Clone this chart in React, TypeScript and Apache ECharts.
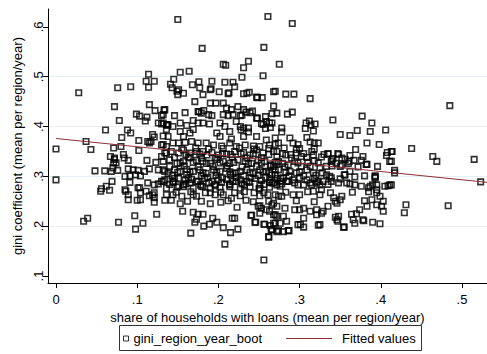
import React, { useEffect, useRef } from "react";
import * as echarts from "echarts";

const FONT = "'Liberation Sans', Arial, Helvetica, sans-serif";

const xTicks = [0, 0.1, 0.2, 0.3, 0.4, 0.5];
const yTicks = [0.1, 0.2, 0.3, 0.4, 0.5, 0.6];
const scatterName = "gini_region_year_boot";
const fitName = "Fitted values";
const xTitle = "share of households with loans (mean per region/year)";
const yTitle = "gini coefficient (mean per region/year)";

// fitted regression line end points (x, y)
const fittedX = [0, 0.531];
const fittedY = [0.376, 0.288];

// scatter points [share with loans, gini]
const upperPoints = [
  [0.150, 0.615], [0.180, 0.557], [0.206, 0.525], [0.209, 0.523], [0.237, 0.531], [0.231, 0.518], [0.229, 0.499],
  [0.114, 0.505], [0.153, 0.509], [0.164, 0.511], [0.145, 0.495], [0.111, 0.491], [0.121, 0.491], [0.114, 0.479],
  [0.076, 0.478], [0.092, 0.480], [0.028, 0.468], [0.141, 0.485], [0.143, 0.478], [0.151, 0.474], [0.150, 0.464],
  [0.168, 0.484], [0.176, 0.490], [0.177, 0.478], [0.181, 0.464], [0.192, 0.491], [0.191, 0.476], [0.208, 0.489],
  [0.218, 0.489], [0.220, 0.480], [0.201, 0.470], [0.213, 0.468], [0.231, 0.466], [0.238, 0.469],
  [0.261, 0.621], [0.291, 0.607], [0.256, 0.559], [0.275, 0.525], [0.255, 0.502], [0.268, 0.470], [0.248, 0.458],
  [0.254, 0.458], [0.283, 0.465], [0.293, 0.465], [0.313, 0.456], [0.485, 0.442],
  [0.072, 0.440], [0.115, 0.444], [0.122, 0.432], [0.171, 0.450], [0.176, 0.430], [0.182, 0.432], [0.190, 0.447],
  [0.197, 0.447], [0.206, 0.447], [0.210, 0.437], [0.216, 0.434], [0.224, 0.440], [0.231, 0.434], [0.268, 0.441],
  [0.149, 0.471], [0.157, 0.467], [0.190, 0.474], [0.212, 0.466], [0.235, 0.467], [0.247, 0.459], [0.270, 0.471],
  [0.242, 0.431], [0.234, 0.429], [0.229, 0.423], [0.248, 0.417], [0.258, 0.420], [0.266, 0.426], [0.239, 0.428],
];

const upperBandPoints = [
  [0.099, 0.425], [0.103, 0.421], [0.112, 0.419], [0.110, 0.411], [0.078, 0.412], [0.126, 0.407], [0.130, 0.405],
  [0.136, 0.404], [0.133, 0.433], [0.132, 0.424], [0.061, 0.393], [0.088, 0.393], [0.092, 0.387], [0.081, 0.378],
  [0.119, 0.384], [0.121, 0.379], [0.117, 0.370], [0.113, 0.370], [0.137, 0.402], [0.132, 0.381], [0.132, 0.364],
  [0.102, 0.372], [0.115, 0.367],
  [0.134, 0.434], [0.146, 0.422], [0.159, 0.428], [0.175, 0.430], [0.179, 0.427], [0.188, 0.424], [0.192, 0.422],
  [0.206, 0.424], [0.212, 0.422], [0.218, 0.424], [0.227, 0.422], [0.247, 0.417], [0.259, 0.410], [0.272, 0.427],
  [0.130, 0.422], [0.132, 0.407], [0.138, 0.404], [0.144, 0.400], [0.153, 0.407], [0.161, 0.402], [0.169, 0.412],
  [0.175, 0.407], [0.181, 0.407], [0.189, 0.405], [0.202, 0.407], [0.208, 0.400], [0.222, 0.410], [0.227, 0.400],
  [0.231, 0.397], [0.237, 0.397], [0.253, 0.406], [0.263, 0.407],
  [0.136, 0.394], [0.138, 0.380], [0.153, 0.390], [0.157, 0.380], [0.165, 0.387], [0.169, 0.394], [0.198, 0.387],
  [0.202, 0.380], [0.214, 0.390], [0.216, 0.375], [0.231, 0.380], [0.247, 0.380], [0.259, 0.373], [0.270, 0.377],
  [0.285, 0.425], [0.291, 0.429], [0.266, 0.407], [0.278, 0.397], [0.278, 0.389], [0.308, 0.407], [0.312, 0.411],
  [0.314, 0.403], [0.319, 0.405], [0.317, 0.391], [0.341, 0.413], [0.377, 0.421], [0.389, 0.407], [0.350, 0.384],
  [0.362, 0.382], [0.371, 0.392], [0.387, 0.390], [0.406, 0.393], [0.383, 0.367], [0.398, 0.364], [0.288, 0.377],
  [0.309, 0.378], [0.255, 0.404], [0.258, 0.396], [0.264, 0.398], [0.237, 0.389], [0.228, 0.393], [0.307, 0.396],
  [0.067, 0.340], [0.072, 0.337], [0.071, 0.327], [0.080, 0.360],
];

const middlePoints = [
  [0.037, 0.370], [0.043, 0.354], [0.000, 0.355], [0.071, 0.357], [0.102, 0.352], [0.083, 0.344], [0.084, 0.337],
  [0.072, 0.334], [0.074, 0.327], [0.089, 0.332], [0.112, 0.332], [0.123, 0.328], [0.130, 0.340], [0.136, 0.347],
  [0.130, 0.363], [0.136, 0.360], [0.144, 0.367], [0.151, 0.367], [0.159, 0.368], [0.167, 0.370], [0.175, 0.367],
  [0.185, 0.367], [0.194, 0.363], [0.204, 0.361], [0.214, 0.367], [0.222, 0.360], [0.233, 0.363], [0.243, 0.361],
  [0.251, 0.360], [0.263, 0.363], [0.274, 0.367],
  [0.134, 0.347], [0.142, 0.350], [0.151, 0.347], [0.157, 0.353], [0.165, 0.347], [0.173, 0.350], [0.181, 0.350],
  [0.192, 0.348], [0.200, 0.343], [0.210, 0.345], [0.220, 0.350], [0.231, 0.348], [0.239, 0.343], [0.247, 0.353],
  [0.255, 0.347], [0.268, 0.350],
  [0.132, 0.330], [0.140, 0.333], [0.149, 0.326], [0.157, 0.330], [0.165, 0.337], [0.173, 0.332], [0.181, 0.330],
  [0.190, 0.326], [0.198, 0.334], [0.206, 0.330], [0.214, 0.326], [0.224, 0.333], [0.233, 0.330], [0.241, 0.326],
  [0.249, 0.333], [0.257, 0.330], [0.265, 0.323], [0.274, 0.330],
  [0.132, 0.313], [0.138, 0.306], [0.146, 0.313], [0.153, 0.310], [0.161, 0.314], [0.169, 0.310], [0.177, 0.313],
  [0.185, 0.306], [0.194, 0.313], [0.202, 0.310], [0.210, 0.316], [0.218, 0.306], [0.227, 0.310], [0.235, 0.313],
  [0.243, 0.306], [0.251, 0.313], [0.259, 0.310], [0.270, 0.313],
  [0.134, 0.293], [0.144, 0.290], [0.151, 0.296], [0.159, 0.293], [0.167, 0.294], [0.175, 0.290], [0.183, 0.296],
  [0.192, 0.290], [0.200, 0.293], [0.210, 0.294], [0.218, 0.290], [0.227, 0.293], [0.235, 0.290], [0.245, 0.296],
  [0.253, 0.292], [0.263, 0.293], [0.272, 0.296],
  [0.136, 0.276], [0.149, 0.278], [0.157, 0.279], [0.169, 0.276], [0.181, 0.279], [0.190, 0.276], [0.202, 0.278],
  [0.214, 0.279], [0.227, 0.276], [0.239, 0.279], [0.251, 0.276], [0.263, 0.278],
  [0.155, 0.356], [0.172, 0.357], [0.188, 0.355], [0.206, 0.356], [0.226, 0.357], [0.244, 0.355], [0.262, 0.356],
  [0.281, 0.357], [0.300, 0.356], [0.318, 0.355],
  [0.146, 0.338], [0.163, 0.339], [0.179, 0.337], [0.196, 0.338], [0.217, 0.339], [0.235, 0.337], [0.253, 0.338],
  [0.272, 0.339], [0.290, 0.337], [0.309, 0.338], [0.327, 0.339], [0.352, 0.337],
  [0.140, 0.320], [0.158, 0.321], [0.175, 0.319], [0.193, 0.320], [0.211, 0.321], [0.229, 0.319], [0.247, 0.320],
  [0.264, 0.321], [0.282, 0.319], [0.313, 0.320], [0.340, 0.321], [0.372, 0.319], [0.396, 0.320],
  [0.143, 0.302], [0.161, 0.303], [0.179, 0.301], [0.197, 0.302], [0.215, 0.303], [0.231, 0.301], [0.249, 0.302],
  [0.266, 0.303], [0.287, 0.301], [0.320, 0.302], [0.355, 0.303], [0.380, 0.301],
  [0.140, 0.284], [0.160, 0.285], [0.178, 0.283], [0.196, 0.284], [0.214, 0.285], [0.232, 0.283], [0.256, 0.284],
  [0.278, 0.285], [0.298, 0.283], [0.335, 0.284], [0.362, 0.285],
];

const denseCorePoints = [
  [0.160, 0.344], [0.177, 0.345], [0.186, 0.343], [0.205, 0.346], [0.215, 0.344], [0.228, 0.345], [0.243, 0.346],
  [0.262, 0.344], [0.279, 0.346], [0.289, 0.344], [0.305, 0.346], [0.330, 0.344],
  [0.153, 0.327], [0.169, 0.328], [0.185, 0.326], [0.202, 0.327], [0.219, 0.328], [0.237, 0.326], [0.253, 0.327],
  [0.270, 0.328], [0.279, 0.326], [0.298, 0.327], [0.310, 0.328], [0.345, 0.326],
  [0.150, 0.308], [0.165, 0.309], [0.181, 0.307], [0.198, 0.308], [0.214, 0.309], [0.222, 0.307], [0.239, 0.308],
  [0.255, 0.309], [0.263, 0.307], [0.283, 0.308], [0.300, 0.309], [0.328, 0.307],
  [0.146, 0.296], [0.163, 0.297], [0.187, 0.298], [0.205, 0.297], [0.222, 0.298], [0.240, 0.297], [0.258, 0.298],
  [0.277, 0.296], [0.300, 0.297], [0.318, 0.296],
];

const leftLowPoints = [
  [0.048, 0.311], [0.060, 0.311], [0.070, 0.317], [0.068, 0.310], [0.076, 0.312], [0.089, 0.315], [0.095, 0.313],
  [0.101, 0.312], [0.085, 0.300], [0.091, 0.301], [0.098, 0.303], [0.104, 0.301], [0.109, 0.310], [0.115, 0.315],
  [0.126, 0.313], [0.134, 0.310], [0.069, 0.290], [0.062, 0.280], [0.056, 0.275], [0.085, 0.273], [0.091, 0.288],
  [0.103, 0.277], [0.113, 0.287], [0.121, 0.283], [0.132, 0.290], [0.000, 0.293],
  [0.055, 0.270], [0.066, 0.272], [0.086, 0.270], [0.089, 0.263], [0.089, 0.253], [0.101, 0.277], [0.104, 0.267],
  [0.111, 0.270], [0.100, 0.252], [0.104, 0.253], [0.115, 0.261], [0.119, 0.263], [0.121, 0.267], [0.121, 0.257],
  [0.121, 0.248], [0.126, 0.285], [0.134, 0.252], [0.136, 0.263], [0.034, 0.210], [0.039, 0.216], [0.077, 0.208],
  [0.097, 0.221], [0.098, 0.194], [0.107, 0.206], [0.124, 0.224],
];

const lowerPoints = [
  [0.130, 0.290], [0.144, 0.288], [0.151, 0.281], [0.157, 0.283], [0.165, 0.287], [0.173, 0.290], [0.179, 0.280],
  [0.188, 0.287], [0.196, 0.281], [0.204, 0.288], [0.214, 0.283], [0.222, 0.290], [0.229, 0.285], [0.238, 0.288],
  [0.251, 0.283], [0.263, 0.288], [0.272, 0.283],
  [0.144, 0.263], [0.142, 0.252], [0.155, 0.260], [0.153, 0.245], [0.156, 0.230], [0.169, 0.263], [0.173, 0.260],
  [0.179, 0.250], [0.190, 0.267], [0.190, 0.245], [0.196, 0.263], [0.203, 0.248], [0.206, 0.263], [0.216, 0.256],
  [0.220, 0.267], [0.227, 0.261], [0.234, 0.252], [0.223, 0.238], [0.244, 0.267], [0.250, 0.275], [0.251, 0.261],
  [0.261, 0.263], [0.268, 0.246], [0.274, 0.260],
  [0.169, 0.228], [0.175, 0.224], [0.181, 0.224], [0.171, 0.208], [0.173, 0.214], [0.182, 0.200], [0.189, 0.204],
  [0.193, 0.216], [0.198, 0.208], [0.166, 0.186], [0.206, 0.197], [0.215, 0.187], [0.217, 0.216], [0.220, 0.216],
  [0.224, 0.194], [0.208, 0.164], [0.240, 0.222], [0.246, 0.208], [0.251, 0.226], [0.253, 0.236], [0.256, 0.204],
  [0.262, 0.179], [0.265, 0.193], [0.270, 0.206], [0.272, 0.220], [0.256, 0.132], [0.249, 0.240], [0.259, 0.233],
  [0.263, 0.230], [0.268, 0.223],
  [0.148, 0.268], [0.166, 0.269], [0.184, 0.267], [0.203, 0.268], [0.232, 0.269], [0.256, 0.267], [0.283, 0.268],
  [0.310, 0.269], [0.338, 0.267], [0.365, 0.268], [0.385, 0.269],
  [0.162, 0.250], [0.212, 0.251], [0.243, 0.249], [0.262, 0.250], [0.296, 0.251], [0.318, 0.249], [0.344, 0.250],
  [0.380, 0.251],
];

const rightPoints = [
  [0.270, 0.364], [0.272, 0.350], [0.292, 0.367], [0.298, 0.364], [0.313, 0.369], [0.318, 0.367], [0.323, 0.367],
  [0.296, 0.354], [0.296, 0.347], [0.283, 0.343], [0.302, 0.340], [0.315, 0.350], [0.317, 0.343], [0.318, 0.331],
  [0.335, 0.345], [0.341, 0.336], [0.348, 0.344], [0.339, 0.330], [0.356, 0.334], [0.362, 0.342], [0.361, 0.330],
  [0.369, 0.354], [0.367, 0.332], [0.376, 0.332], [0.378, 0.340], [0.383, 0.324], [0.408, 0.348], [0.407, 0.342],
  [0.413, 0.350], [0.411, 0.330], [0.417, 0.312], [0.352, 0.323], [0.362, 0.310], [0.356, 0.303], [0.350, 0.295],
  [0.339, 0.297], [0.329, 0.290], [0.325, 0.283], [0.321, 0.287], [0.368, 0.299], [0.393, 0.297], [0.387, 0.280],
  [0.376, 0.280], [0.395, 0.283], [0.405, 0.280], [0.411, 0.283], [0.305, 0.283], [0.309, 0.293], [0.315, 0.283],
  [0.333, 0.303], [0.337, 0.300], [0.286, 0.323], [0.294, 0.330], [0.302, 0.320], [0.288, 0.310], [0.296, 0.307],
  [0.309, 0.313], [0.317, 0.307], [0.305, 0.301], [0.268, 0.320], [0.274, 0.313], [0.270, 0.303], [0.280, 0.297],
  [0.266, 0.287], [0.276, 0.280], [0.286, 0.290], [0.294, 0.287], [0.323, 0.327], [0.325, 0.317], [0.333, 0.320],
  [0.335, 0.346], [0.347, 0.346], [0.340, 0.334], [0.360, 0.326], [0.350, 0.320], [0.393, 0.301], [0.382, 0.324],
  [0.414, 0.350], [0.413, 0.330], [0.417, 0.307], [0.438, 0.356], [0.464, 0.340], [0.469, 0.330], [0.515, 0.334],
  [0.523, 0.289], [0.531, 0.288],
  [0.268, 0.287], [0.276, 0.290], [0.284, 0.290], [0.292, 0.293], [0.313, 0.287], [0.323, 0.290], [0.339, 0.290],
  [0.348, 0.287], [0.358, 0.287], [0.368, 0.283], [0.385, 0.277], [0.390, 0.283], [0.395, 0.273], [0.413, 0.283],
  [0.270, 0.263], [0.278, 0.260], [0.292, 0.263], [0.300, 0.263], [0.317, 0.270], [0.325, 0.263], [0.327, 0.273],
  [0.342, 0.257], [0.350, 0.253], [0.352, 0.260],
  [0.266, 0.243], [0.272, 0.240], [0.282, 0.236], [0.294, 0.233], [0.305, 0.236], [0.313, 0.230], [0.321, 0.233],
  [0.329, 0.230], [0.335, 0.240], [0.346, 0.246],
  [0.270, 0.223], [0.280, 0.220], [0.268, 0.206], [0.276, 0.206], [0.284, 0.210], [0.305, 0.216], [0.321, 0.223],
  [0.327, 0.226], [0.266, 0.193], [0.272, 0.189], [0.286, 0.191], [0.298, 0.203], [0.305, 0.198], [0.323, 0.202],
  [0.344, 0.218], [0.348, 0.220], [0.347, 0.210], [0.354, 0.198], [0.364, 0.224], [0.370, 0.225], [0.366, 0.213],
  [0.368, 0.206], [0.378, 0.213], [0.390, 0.208], [0.399, 0.205], [0.374, 0.233], [0.383, 0.240], [0.389, 0.253],
  [0.395, 0.243], [0.403, 0.230], [0.401, 0.240], [0.395, 0.267],
  [0.409, 0.281], [0.393, 0.299], [0.403, 0.250], [0.399, 0.260], [0.379, 0.211], [0.355, 0.198], [0.346, 0.213],
  [0.325, 0.203], [0.301, 0.203], [0.300, 0.233], [0.287, 0.191], [0.280, 0.189], [0.274, 0.191], [0.264, 0.201],
  [0.257, 0.204], [0.245, 0.208], [0.241, 0.222], [0.251, 0.241], [0.431, 0.243], [0.429, 0.227], [0.483, 0.241],
  [0.262, 0.178],
];

const allPoints = [
  ...upperPoints,
  ...upperBandPoints,
  ...middlePoints,
  ...denseCorePoints,
  ...leftLowPoints,
  ...lowerPoints,
  ...rightPoints,
];

const fmt = (v: number) => (Math.abs(v) < 1e-9 ? "0" : v.toFixed(1).replace(/^0\./, "."));

export default function App() {
  const ref = useRef<HTMLDivElement>(null);
  useEffect(() => {
    if (!ref.current) return;
    const chart = echarts.init(ref.current, undefined, { renderer: "svg" });
    const option: any = {
      animation: false,
      backgroundColor: "#ffffff",
      textStyle: { fontFamily: FONT },
      grid: { left: 48, right: 0, top: 9, bottom: 71, containLabel: false },
      xAxis: {
        type: "value",
        min: -0.00985,
        max: 0.5308,
        name: xTitle,
        nameLocation: "middle",
        nameGap: 23,
        nameTextStyle: { fontSize: 13, color: "#000", fontFamily: FONT },
        axisLine: { show: true, onZero: false, lineStyle: { color: "#000", width: 1 } },
        axisTick: { show: true, length: 5, customValues: xTicks, lineStyle: { color: "#000", width: 1 } },
        axisLabel: { customValues: xTicks, formatter: fmt, fontSize: 13, color: "#000", margin: 10, fontFamily: FONT },
        splitLine: { show: false },
      },
      yAxis: {
        type: "value",
        min: 0.0859,
        max: 0.636,
        name: yTitle,
        nameLocation: "middle",
        nameGap: 13,
        nameRotate: 90,
        nameTextStyle: { fontSize: 13, color: "#000", fontFamily: FONT },
        axisLine: { show: true, onZero: false, lineStyle: { color: "#000", width: 1 } },
        axisTick: { show: true, length: 5, customValues: yTicks, lineStyle: { color: "#000", width: 1 } },
        axisLabel: { customValues: yTicks, formatter: fmt, rotate: 90, fontSize: 13, color: "#000", margin: 3, fontFamily: FONT },
        splitLine: { show: true, showMinLine: false, showMaxLine: false, lineStyle: { color: "#e6eff1", width: 1 } },
      },
      legend: [
        {
          data: [scatterName],
          left: 123,
          top: 332,
          padding: 0,
          itemWidth: 5,
          itemHeight: 5,
          selectedMode: false,
          itemStyle: { borderWidth: 1 },
          textStyle: { fontSize: 13, color: "#000", fontFamily: FONT },
        },
        {
          data: [{ name: fitName, icon: "rect", itemStyle: { color: "#8f2f36" } }],
          left: 286,
          top: 332,
          padding: 0,
          itemWidth: 46,
          itemHeight: 1,
          selectedMode: false,
          textStyle: { fontSize: 13, color: "#000", fontFamily: FONT, padding: [0, 0, 0, 5] },
        },
      ],
      graphic: [
        {
          type: "rect",
          shape: { x: 119.5, y: 325.5, width: 302, height: 25 },
          style: { fill: "none", stroke: "#333", lineWidth: 1 },
          silent: true,
        },
      ],
      series: [
        {
          type: "scatter",
          name: scatterName,
          data: allPoints,
          symbol: "rect",
          symbolSize: 5.5,
          itemStyle: { color: "rgba(0,0,0,0)", borderColor: "#000", borderWidth: 1.6 },
          z: 2,
        },
        {
          type: "line",
          name: fitName,
          data: fittedX.map((x, i) => [x, fittedY[i]]),
          symbol: "none",
          showSymbol: false,
          lineStyle: { color: "#8f2f36", width: 1 },
          itemStyle: { color: "#8f2f36" },
          z: 3,
        },
      ],
    };
    chart.setOption(option);
    return () => chart.dispose();
  }, []);
  return <div ref={ref} style={{ position: "fixed", left: 0, top: 0, width: 487, height: 354 }} />;
}
